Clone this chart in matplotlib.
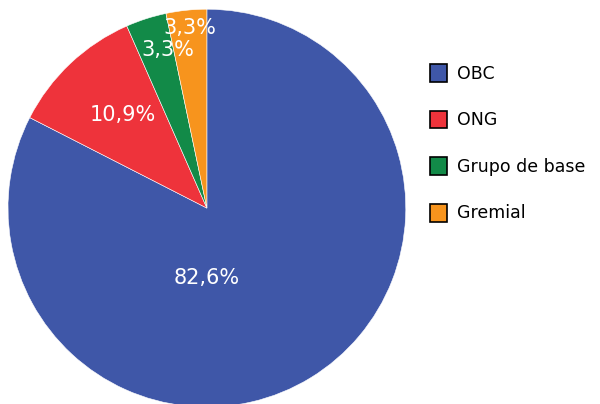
import matplotlib
matplotlib.use("Agg")
import matplotlib.pyplot as plt
from matplotlib.patches import Patch
import numpy as np

categories = ["OBC", "ONG", "Grupo de base", "Gremial"]
values = [82.6, 10.9, 3.3, 3.3]
labels = ["82,6%", "10,9%", "3,3%", "3,3%"]
colors = ["#3F57A8", "#EE333B", "#128A48", "#F7941D"]
# label placement (angle in degrees, radius as fraction of pie radius)
label_angle = [-90, 132, 104, 95.4]
label_radius = [0.35, 0.63, 0.82, 0.91]

plt.rcParams["font.family"] = ["DejaVu Sans"]

fig = plt.figure(figsize=(6, 4.04), dpi=100)
ax = fig.add_axes([0.0133, -0.0076, 0.663, 0.985])

wedges, _ = ax.pie(values, colors=colors, startangle=90, counterclock=False,
                   wedgeprops=dict(edgecolor="white", linewidth=0.4))
ax.set_xlim(-1, 1)
ax.set_ylim(-1, 1)
ax.set_aspect("equal")

for lab, a, r in zip(labels, label_angle, label_radius):
    ang = np.deg2rad(a)
    ax.text(r * np.cos(ang), r * np.sin(ang), lab, color="white", fontsize=15,
            ha="center", va="center")

handles = [Patch(facecolor=c, edgecolor="black", linewidth=1.2) for c in colors]
fig.legend(handles, categories, loc="upper left", bbox_to_anchor=(0.691, 0.88),
           frameon=False, fontsize=12.5, handlelength=0.95, handleheight=1.2,
           labelspacing=1.6, handletextpad=0.6)

fig.savefig("out.png", dpi=100)
